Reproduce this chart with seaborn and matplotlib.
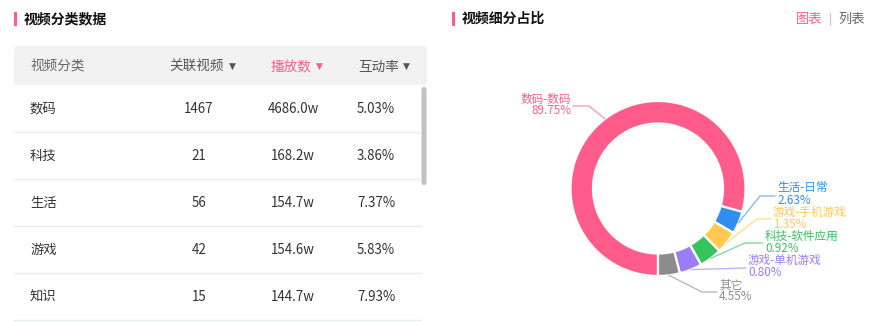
import numpy as np
import seaborn as sns
import matplotlib.pyplot as plt
from matplotlib.patches import FancyBboxPatch, Rectangle

# ---- Data ----
TABLE_CATS = ["数码", "科技", "生活", "游戏", "知识"]
TABLE_VIDEOS = ["1467", "21", "56", "42", "15"]
TABLE_PLAYS = ["4686.0w", "168.2w", "154.7w", "154.6w", "144.7w"]
TABLE_RATES = ["5.03%", "3.86%", "7.37%", "5.83%", "7.93%"]
HEADERS = ["视频分类", "关联视频", "播放数", "互动率"]

PIE_NAMES = ["数码-数码", "生活-日常", "游戏-手机游戏", "科技-软件应用", "游戏-单机游戏", "其它"]
PIE_VALUES = [89.75, 2.63, 1.35, 0.92, 0.80, 4.55]
PIE_COLORS = ["#ff5b8b", "#2f8ef2", "#ffca4f", "#36c35b", "#9a7df6", "#8c8c8c"]

# ---- Settings ----
PINK = "#ff5b8b"
MIN_ANGLE = 15  # small slices get at least this many degrees
CX, CY, R, RING = 658, 188.5, 87.5, 22.5
W, H = 876, 324

sns.set_theme(style="white")
plt.rcParams["font.family"] = ["Noto Sans CJK SC", "DejaVu Sans"]

fig = plt.figure(figsize=(W / 100, H / 100), dpi=100)
fig.patch.set_facecolor("white")

# ---- Donut (min-angle layout like the web chart) ----
total = sum(PIE_VALUES)
angles = [v / total * 360 for v in PIE_VALUES]
rest, big_sum = 360.0, 0.0
for a, v in zip(angles, PIE_VALUES):
    if a < MIN_ANGLE:
        rest -= MIN_ANGLE
    else:
        big_sum += v
angles = [MIN_ANGLE if a < MIN_ANGLE else rest * v / big_sum for a, v in zip(angles, PIE_VALUES)]

half = 100
pax = fig.add_axes([(CX - half) / W, (H - CY - half) / H, 2 * half / W, 2 * half / H])
wedges, _ = pax.pie(
    angles, colors=PIE_COLORS, startangle=-90, counterclock=False, radius=1,
    wedgeprops=dict(width=RING / R, edgecolor="white", linewidth=1.6),
)
lim = half / R
pax.set_xlim(-lim, lim)
pax.set_ylim(-lim, lim)
pax.axis("off")

# ---- Overlay in pixel coords ----
ax = fig.add_axes([0, 0, 1, 1], facecolor="none")
ax.set_xlim(0, W)
ax.set_ylim(H, 0)
ax.axis("off")

# label layout: elbow point, line end, text center y
elbows = [(589, 106), (760, 196), (757, 219), (745, 243), (745, 268), (702, 292)]
ends = [573, 775, 771, 763, 746, 717]
ys = [105, 194, 218, 242, 266, 291]
for w, name, v, col, (ex, ey), tx, ty in zip(wedges, PIE_NAMES, PIE_VALUES, PIE_COLORS, elbows, ends, ys):
    mid = np.deg2rad((w.theta1 + w.theta2) / 2)
    sx, sy = CX + R * np.cos(mid), CY - R * np.sin(mid)
    ax.plot([sx, ex, tx], [sy, ey, ey], color=col, alpha=0.6, lw=1)
    left = tx < CX
    ha = "right" if left else "left"
    xt = tx - 2 if left else tx + 2
    ax.text(xt, ty, f"{name}\n{v:.2f}%", color=col, fontsize=8.4, ha=ha, va="center",
            linespacing=0.9)

# ---- Titles ----
for bx, title in [(14, "视频分类数据"), (452, "视频细分占比")]:
    ax.add_patch(Rectangle((bx, 12), 2.5, 14, color=PINK, lw=0))
    ax.text(bx + 10, 19, title, fontsize=10, fontweight="bold", color="#111111", va="center")
ax.text(822, 19, "图表", color=PINK, fontsize=9.5, ha="right", va="center")
ax.plot([829.5, 829.5], [13, 25], color="#cccccc", lw=1)
ax.text(838, 19, "列表", color="#666666", fontsize=9.5, ha="left", va="center")

# ---- Table ----
ax.add_patch(FancyBboxPatch((14, 46), 413, 39, boxstyle="round,pad=0,rounding_size=4",
                            fc="#f2f2f2", ec="none"))
header_x = [30, 197, 291, 379]
arrow_x = [None, 232, 319, 406]
header_col = ["#666666", "#555555", PINK, "#555555"]
for i, (hx, txt, c) in enumerate(zip(header_x, HEADERS, header_col)):
    if i == 0:
        ax.text(hx, 67, txt, color=c, fontsize=9.8, ha="left", va="center")
    else:
        ax.text(hx, 67, txt, color=c, fontsize=9.8, ha="center", va="center")
        ax.text(arrow_x[i], 66, "▼", color=c, fontsize=6.5, ha="center", va="center",
                family="DejaVu Sans")

row_y = [109, 156, 203, 250, 297]
for ry, cat, nv, pl, rt in zip(row_y, TABLE_CATS, TABLE_VIDEOS, TABLE_PLAYS, TABLE_RATES):
    ax.text(30, ry, cat, color="#333333", fontsize=9.6, ha="left", va="center")
    ax.text(199, ry, nv, color="#333333", fontsize=9.6, ha="center", va="center")
    ax.text(293, ry, pl, color="#333333", fontsize=9.6, ha="center", va="center")
    ax.text(376, ry, rt, color="#333333", fontsize=9.6, ha="center", va="center")
    ax.plot([14, 421], [ry + 23, ry + 23], color="#e9ecf3", lw=1)

# scrollbar
ax.add_patch(FancyBboxPatch((421.5, 87), 5, 98, boxstyle="round,pad=0,rounding_size=2.5",
                            fc="#c1c1c1", ec="none"))

plt.savefig("out.png", dpi=100, facecolor="white")
plt.close()
